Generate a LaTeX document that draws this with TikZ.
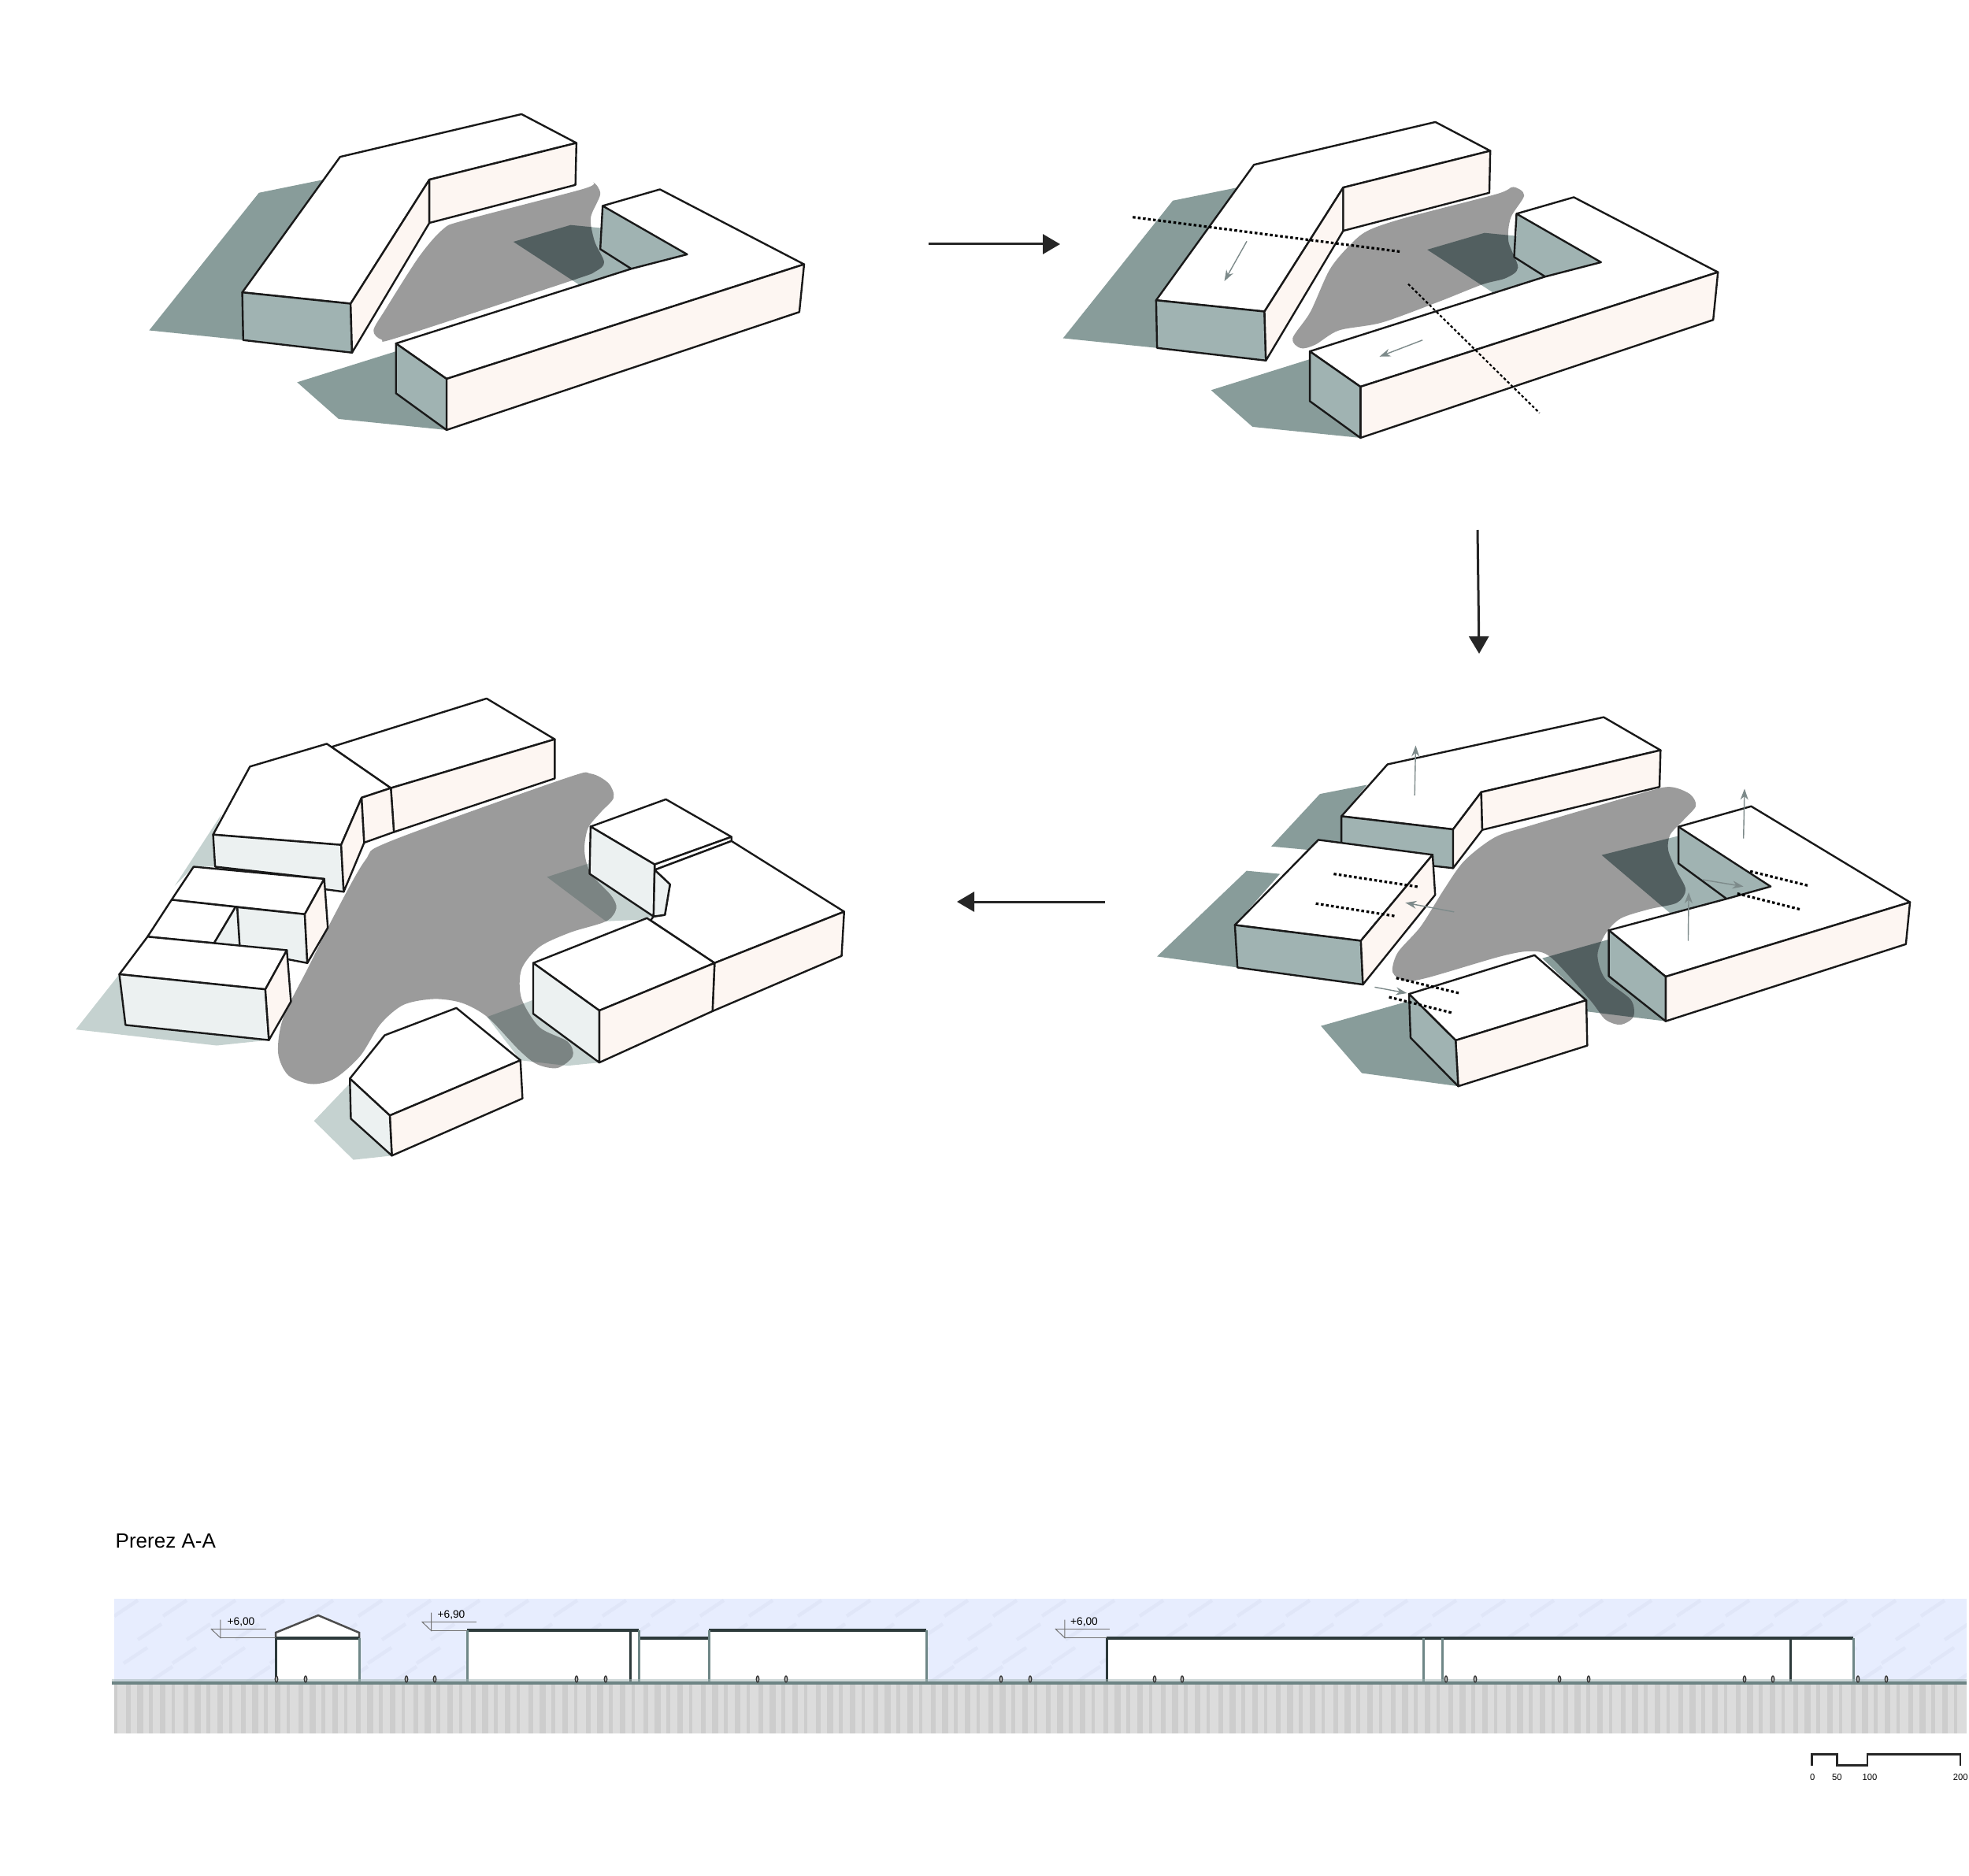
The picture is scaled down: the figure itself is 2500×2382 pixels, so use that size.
\documentclass[tikz,border=0pt]{standalone}
\usepackage{fontspec}
\setmainfont{Liberation Sans}
\usetikzlibrary{arrows.meta}

\definecolor{shadowteal}{HTML}{889C9A}
\definecolor{wallteal}{HTML}{A0B3B2}
\definecolor{pinkface}{HTML}{FDF6F2}
\definecolor{blobgrey}{HTML}{9B9B9B}
\definecolor{darkteal}{HTML}{525F60}
\definecolor{paleshadow}{HTML}{C5D2D0}
\definecolor{palewall}{HTML}{ECF1F1}
\definecolor{palesdark}{HTML}{7B8483}
\definecolor{skyblue}{HTML}{E7EDFE}
\definecolor{skystroke}{HTML}{E0E6F8}
\definecolor{earthgrey}{HTML}{DCDCDC}
\definecolor{earthstripe}{HTML}{CDCDCD}
\definecolor{sectionwall}{HTML}{6F8787}
\definecolor{sectiondark}{HTML}{2D3A3B}
\definecolor{groundline}{HTML}{6D8484}
\definecolor{movegrey}{HTML}{7D8A8A}

\tikzset{
    panelone/.style={shift={(150,100)},x=0.00606cm,y=-0.003333cm},
    paneltwo/.style={shift={(1310.3,110)},x=0.00606cm,y=-0.003333cm},
    panelthree/.style={shift={(1430,880)},x=0.006505cm,y=-0.003333cm},
    panelfour/.style={shift={(80,860)},x=0.006505cm,y=-0.00408cm},
    edge/.style={draw=black!90,line width=0.024cm,line join=round},
    roofface/.style={edge,fill=white},
    pinkside/.style={edge,fill=pinkface},
    tealside/.style={edge,fill=wallteal},
    paleside/.style={edge,fill=palewall},
    flowarrow/.style={draw=black!85,line width=0.03cm,-{Triangle[length=0.22cm,width=0.25cm]}},
    movearrow/.style={draw=movegrey,line width=0.014cm,-{Stealth[length=0.14cm,width=0.1cm]}},
    cutline/.style={draw=black,line width=0.032cm,dash pattern=on 0.035cm off 0.03cm},
    thincut/.style={draw=black,line width=0.022cm,dash pattern=on 0.035cm off 0.028cm},
    level/.style={draw=black!55,line width=0.01cm},
    levellabel/.style={inner sep=0pt,font=\fontsize{3.9pt}{4.5pt}\selectfont},
    scalelabel/.style={inner sep=0pt,font=\fontsize{3.2pt}{4pt}\selectfont},
    person/.style={draw=black!80,fill=black!30,line width=0.012cm},
}

% same two volumes in the first two panels
\newcommand{\groundbase}{(430,385) -- (295,435) -- (65,960) -- (262,997) -- (490,1045) -- cycle
    (582,1040) -- (375,1158) -- (462,1298) -- (688,1340) -- cycle}
\newcommand{\courtbase}{(828,622) -- (948,558) -- (1015,570) -- (1015,485) -- (1192,670) -- (1075,725) -- (965,785) -- cycle}
\newcommand{\volumesbase}{
    \path[roofface] (260,815) -- (465,298) -- (845,135) -- (960,245) -- (652,385) -- (487,858) -- cycle;
    \path[tealside] (260,815) -- (487,858) -- (490,1045) -- (262,997) -- cycle;
    \path[pinkside] (487,858) -- (652,385) -- (652,550) -- (490,1045) -- cycle;
    \path[pinkside] (652,385) -- (960,245) -- (958,405) -- (652,550) -- cycle;
    \path[roofface] (582,1010) -- (1075,725) -- (1192,670) -- (1015,485) -- (1135,422) -- (1437,708) -- (688,1145) -- cycle;
    \path[pinkside] (688,1145) -- (1437,708) -- (1427,890) -- (688,1340) -- cycle;
    \path[tealside] (582,1010) -- (688,1145) -- (688,1340) -- (582,1200) -- cycle;
    \draw[edge] (1015,485) -- (1010,650) -- (1075,725);
}

\begin{document}
\begin{tikzpicture}[x=0.01cm,y=-0.01cm]
    \useasboundingbox (0,0) rectangle (2500,2382);

    % panel 1
    \begin{scope}[panelone]
        \newcommand{\blobone}{plot[smooth cycle,tension=0.5] coordinates {(995,395) (1010,440) (990,530) (998,620) (1018,700) (1000,735) (950,770) (590,985) (552,995) (535,960) (560,880) (630,680) (680,575) (725,540) (975,420)}}
        \fill[shadowteal] \groundbase;
        \fill[wallteal] \courtbase;
        \fill[blobgrey] \blobone;
        \begin{scope}
            \clip \blobone;
            \fill[darkteal] \courtbase;
        \end{scope}
        \volumesbase
    \end{scope}

    % panel 2
    \begin{scope}[paneltwo]
        \newcommand{\blobtwo}{plot[smooth cycle,tension=0.5] coordinates {(1008,383) (1031,415) (1003,500) (998,590) (1018,690) (993,730) (943,755) (853,820) (733,900) (643,930) (593,985) (563,998) (546,960) (583,860) (623,700) (663,610) (703,550) (783,500) (973,410)}}
        \fill[shadowteal] \groundbase;
        \fill[wallteal] \courtbase;
        \fill[blobgrey] \blobtwo;
        \begin{scope}
            \clip \blobtwo;
            \fill[darkteal] \courtbase;
        \end{scope}
        \volumesbase
        \path (211,498) coordinate(cuta1) (773,630) coordinate(cuta2) (788,753) coordinate(cutb1) (1063,1245) coordinate(cutb2);
        \path (450,590) coordinate(pusha1) (403,742) coordinate(pusha2) (818,967) coordinate(pushb1) (728,1030) coordinate(pushb2);
        \draw[cutline] (cuta1) -- (cuta2);
        \draw[thincut] (cutb1) -- (cutb2);
        \draw[movearrow] (pusha1) -- (pusha2);
        \draw[movearrow] (pushb1) -- (pushb2);
    \end{scope}

    % panel 3
    \begin{scope}[panelthree]
        \newcommand{\blobthree}{plot[smooth cycle,tension=0.5] coordinates {(1060,358) (1100,385) (1112,430) (1090,480) (1062,540) (1058,600) (1075,680) (1092,750) (1075,800) (1020,825) (965,860) (935,920) (920,1000) (935,1090) (985,1170) (990,1235) (965,1265) (935,1245) (905,1170) (830,1010) (790,985) (730,1005) (590,1085) (545,1098) (520,1065) (530,990) (575,890) (620,750) (660,640) (720,550) (790,505) (1000,385)}}
        \newcommand{\courtthree}{(928,618) -- (1078,545) -- (1078,510) -- (1258,738) -- (1172,785) -- (1062,840) -- cycle}
        \newcommand{\gapthree}{(812,1012) -- (942,940) -- (942,1080) -- (1053,1252) -- (900,1215) -- (898,1172) -- cycle}
        \fill[shadowteal] (470,350) -- (378,385) -- (283,585) -- (420,610) -- (420,470) -- cycle;
        \fill[shadowteal] (235,678) -- (300,690) -- (212,885) -- (217,1047) -- (60,1005) -- cycle;
        \fill[shadowteal] (552,1175) -- (380,1270) -- (460,1450) -- (648,1500) -- cycle;
        \fill[wallteal] \courtthree;
        \fill[shadowteal] \gapthree;
        \fill[blobgrey] \blobthree;
        \begin{scope}
            \clip \blobthree;
            \fill[darkteal] \courtthree;
            \fill[darkteal] \gapthree;
        \end{scope}
        \path[roofface] (420,470) -- (510,272) -- (932,92) -- (1043,218) -- (693,378) -- (638,520) -- cycle;
        \path[tealside] (420,470) -- (638,520) -- (638,668) -- (420,620) -- cycle;
        \path[pinkside] (638,520) -- (693,378) -- (695,522) -- (638,668) -- cycle;
        \path[pinkside] (693,378) -- (1043,218) -- (1041,358) -- (695,522) -- cycle;
        \path[roofface] (212,885) -- (375,560) -- (598,617) -- (458,945) -- cycle;
        \path[tealside] (212,885) -- (458,945) -- (462,1112) -- (217,1047) -- cycle;
        \path[pinkside] (458,945) -- (598,617) -- (603,770) -- (462,1112) -- cycle;
        \path[roofface] (552,1148) -- (797,1000) -- (898,1172) -- (643,1325) -- cycle;
        \path[pinkside] (643,1325) -- (898,1172) -- (900,1345) -- (648,1500) -- cycle;
        \path[tealside] (552,1148) -- (643,1325) -- (648,1500) -- (555,1315) -- cycle;
        \path[roofface] (942,905) -- (1172,785) -- (1258,738) -- (1078,510) -- (1220,432) -- (1530,798) -- (1053,1082) -- cycle;
        \path[pinkside] (1053,1082) -- (1530,798) -- (1522,958) -- (1053,1252) -- cycle;
        \path[tealside] (942,905) -- (1053,1082) -- (1053,1252) -- (942,1080) -- cycle;
        \draw[edge] (1078,510) -- (1078,650) -- (1172,785);
        \foreach \cutname/\ax/\ay/\bx/\by in {c1/405/690/572/740,c2/370/803/528/852,c3/1218/680/1332/735,c4/1193/765/1315/825,c5/527/1087/650/1145,c6/513/1160/636/1220} {
            \path (\ax,\ay) coordinate(\cutname a) (\bx,\by) coordinate(\cutname b);
            \draw[cutline] (\cutname a) -- (\cutname b);
        }
        \foreach \pushname/\ax/\ay/\bx/\by in {p1/640/835/545/800,p2/563/390/565/200,p3/1205/555/1207/365,p4/1097/945/1098/760,p5/485/1122/548/1145,p6/1125/712/1205/738} {
            \path (\ax,\ay) coordinate(\pushname a) (\bx,\by) coordinate(\pushname b);
            \draw[movearrow] (\pushname a) -- (\pushname b);
        }
    \end{scope}

    % panel 4
    \begin{scope}[panelfour]
        \newcommand{\blobfour}{plot[smooth cycle,tension=0.5] coordinates {(980,315) (1030,300) (1065,330) (1075,375) (1050,420) (1025,470) (1018,540) (1030,610) (1070,680) (1080,720) (1060,760) (990,795) (930,840) (895,910) (895,1000) (930,1090) (985,1135) (995,1180) (965,1217) (925,1205) (890,1160) (830,1060) (780,1015) (725,1002) (665,1020) (620,1080) (580,1180) (530,1250) (485,1267) (440,1240) (420,1170) (430,1060) (480,900) (530,740) (590,570) (640,510)}}
        \newcommand{\courtfour}{(945,622) -- (1030,578) -- (1028,612) -- (1153,745) -- (1125,755) -- (1060,760) -- cycle}
        \newcommand{\gapfour}{(828,1058) -- (918,1005) -- (918,1048) -- (1047,1200) -- (985,1210) -- (893,1193) -- cycle}
        \fill[paleshadow] (310,425) -- (293,490) -- (297,590) -- (255,590) -- (218,650) -- cycle;
        \fill[paleshadow] (110,925) -- (122,1083) -- (402,1130) -- (300,1147) -- (25,1097) -- cycle;
        \fill[paleshadow] (560,1265) -- (490,1382) -- (567,1503) -- (642,1490) -- (562,1375) -- cycle;
        \fill[paleshadow] \courtfour;
        \fill[paleshadow] \gapfour;
        \fill[blobgrey] \blobfour;
        \begin{scope}
            \clip \blobfour;
            \fill[palesdark] \courtfour;
            \fill[palesdark] \gapfour;
        \end{scope}
        \path[roofface] (524,217) -- (827,66) -- (960,193) -- (640,345) -- cycle;
        \path[pinkside] (640,345) -- (960,193) -- (960,315) -- (646,482) -- cycle;
        \path[roofface] (293,490) -- (365,278) -- (515,207) -- (640,345) -- (583,375) -- (543,522) -- cycle;
        \path[paleside] (293,490) -- (543,522) -- (548,668) -- (510,660) -- (510,628) -- (297,590) -- cycle;
        \path[pinkside] (543,522) -- (583,375) -- (588,515) -- (548,668) -- cycle;
        \path[pinkside] (583,375) -- (640,345) -- (646,482) -- (588,515) -- cycle;
        \path[roofface] (212,693) -- (255,590) -- (510,628) -- (472,738) -- cycle;
        \path[paleside] (340,716) -- (472,738) -- (477,890) -- (345,850) -- cycle;
        \path[pinkside] (472,738) -- (510,628) -- (517,780) -- (477,890) -- cycle;
        \path[roofface] (165,808) -- (212,693) -- (337,715) -- (295,828) -- cycle;
        \path[paleside] (337,715) -- (295,828) -- (345,838) -- (340,716) -- cycle;
        \path[roofface] (110,925) -- (165,808) -- (437,850) -- (395,972) -- cycle;
        \path[paleside] (110,925) -- (395,972) -- (402,1130) -- (122,1083) -- cycle;
        \path[pinkside] (395,972) -- (437,850) -- (445,1010) -- (402,1130) -- cycle;
        \path[roofface] (1030,465) -- (1177,380) -- (1305,497) -- (1155,583) -- cycle;
        \path[roofface] (1155,583) -- (1305,497) -- (1305,510) -- (1155,600) -- cycle;
        \path[paleside] (1030,465) -- (1155,583) -- (1153,745) -- (1028,612) -- cycle;
        \path[roofface] (1155,600) -- (1305,510) -- (1525,730) -- (1272,890) -- (1147,757) -- (1153,745) -- (1175,740) -- (1185,645) -- cycle;
        \path[paleside] (1155,600) -- (1185,645) -- (1175,740) -- (1153,745) -- cycle;
        \path[pinkside] (1272,890) -- (1525,730) -- (1520,868) -- (1268,1040) -- cycle;
        \path[roofface] (918,890) -- (1140,750) -- (1272,890) -- (1047,1038) -- cycle;
        \path[pinkside] (1047,1038) -- (1272,890) -- (1268,1040) -- (1047,1200) -- cycle;
        \path[paleside] (918,890) -- (1047,1038) -- (1047,1200) -- (918,1048) -- cycle;
        \path[roofface] (560,1250) -- (628,1115) -- (768,1030) -- (893,1193) -- (638,1365) -- cycle;
        \path[pinkside] (638,1365) -- (893,1193) -- (897,1312) -- (642,1490) -- cycle;
        \path[paleside] (560,1250) -- (638,1365) -- (642,1490) -- (562,1375) -- cycle;
    \end{scope}

    % arrows between panels
    \path (1179,310) coordinate(stepa1) (1346,310) coordinate(stepa2) (1876,673) coordinate(stepb1) (1878,830) coordinate(stepb2) (1403,1145) coordinate(stepc1) (1215,1145) coordinate(stepc2);
    \draw[flowarrow] (stepa1) -- (stepa2);
    \draw[flowarrow] (stepb1) -- (stepb2);
    \draw[flowarrow] (stepc1) -- (stepc2);

    % section
    \path (146,1956.5) node[anchor=west,inner sep=0pt,font=\fontsize{7.4pt}{9pt}\selectfont] (sectiontitle) {Prerez A-A};
    \fill[skyblue] (145,2030) rectangle (2497,2136);
    \begin{scope}
        \clip (145,2030) rectangle (2497,2136);
        \foreach \rowy/\rowx in {2052/0,2082/30,2112/12,2136/44} {
            \foreach \i in {0,...,38} {
                \draw[skystroke,line width=0.045cm] ({145+\rowx+62*\i},\rowy) -- +(30,-20);
            }
        }
    \end{scope}
    \fill[earthgrey] (145,2138) rectangle (2497,2201);
    \foreach \i in {0,...,160} {
        \pgfmathsetmacro{\stripew}{4+mod(\i*7,5)}
        \fill[earthstripe] ({145+14.6*\i},2138) rectangle +(\stripew,63);
    }
    % section houses
    \fill[white] (350,2136) -- (350,2073) -- (404,2051) -- (456,2073) -- (456,2136) -- cycle;
    \fill[white] (593,2070) rectangle (811,2136);
    \fill[white] (811,2080) rectangle (900,2136);
    \fill[white] (900,2070) rectangle (1176,2136);
    \fill[white] (1405,2080) rectangle (2353,2136);
    \draw[black!70,line width=0.025cm] (350,2080) -- (350,2073) -- (404,2051) -- (456,2073) -- (456,2080);
    \foreach \ax/\ay/\bx in {350/2080/456,593/2070/811,811/2080/900,900/2070/1176,1405/2080/2353} {
        \draw[sectiondark,line width=0.042cm] (\ax,\ay) -- (\bx,\ay);
    }
    \foreach \ax/\ay in {456/2080,593/2070,811/2070,900/2070,1176/2070,1807/2080,1831/2080,2353/2080} {
        \draw[sectionwall,line width=0.03cm] (\ax,\ay) -- (\ax,2136);
    }
    \foreach \ax/\ay in {350/2080,800/2070,1405/2080,2273/2080} {
        \draw[sectiondark,line width=0.03cm] (\ax,\ay) -- (\ax,2136);
    }
    \fill[wallteal,opacity=0.5] (142,2131.5) rectangle (2497,2136);
    \draw[groundline,line width=0.04cm] (142,2137) -- (2497,2137);
    \foreach \ax in {351,388,516,552,732,769,962,998,1271,1308,1466,1501,1836,1873,1980,2017,2215,2251,2359,2395} {
        \draw[person] (\ax,2132) ellipse (1.8 and 4);
    }
    % height marks
    \foreach \mname/\ax/\ay/\bx/\wx/\tx/\ty/\mtext in {ma/267.8/2068/338/350/306/2059.5/{+6,00},mb/535.6/2059/604.5/593/573/2050.5/{+6,90},mc/1339.8/2068/1408.6/1405/1376.5/2060/{+6,00}} {
        \path (\tx,\ty) node[levellabel] (\mname) {\mtext};
        \draw[level] (\ax,\ay) -- (\bx,\ay);
        \draw[level] (\ax,\ay) -- ({\ax+12},{\ay+11.5}) -- ({\ax+12},{\ay-11.5});
        \draw[level] ({\ax+12},{\ay+11.5}) -- (\wx,{\ay+11.5});
    }
    % scale bar
    \path (2300.7,2241.7) coordinate(bar0) (2332.3,2227.3) coordinate(bar1) (2371,2241.7) coordinate(bar2) (2489,2227.3) coordinate(bar3);
    \draw[black!85,line width=0.025cm] (bar0) |- (bar1) |- (bar2) |- (bar3) -- (bar3 |- bar0);
    \path (2301.3,2257) node[scalelabel] (s0) {0} (2332.3,2257) node[scalelabel] (s50) {50} (2374,2257) node[scalelabel] (s100) {100} (2489.3,2257) node[scalelabel] (s200) {200};
\end{tikzpicture}
\end{document}
